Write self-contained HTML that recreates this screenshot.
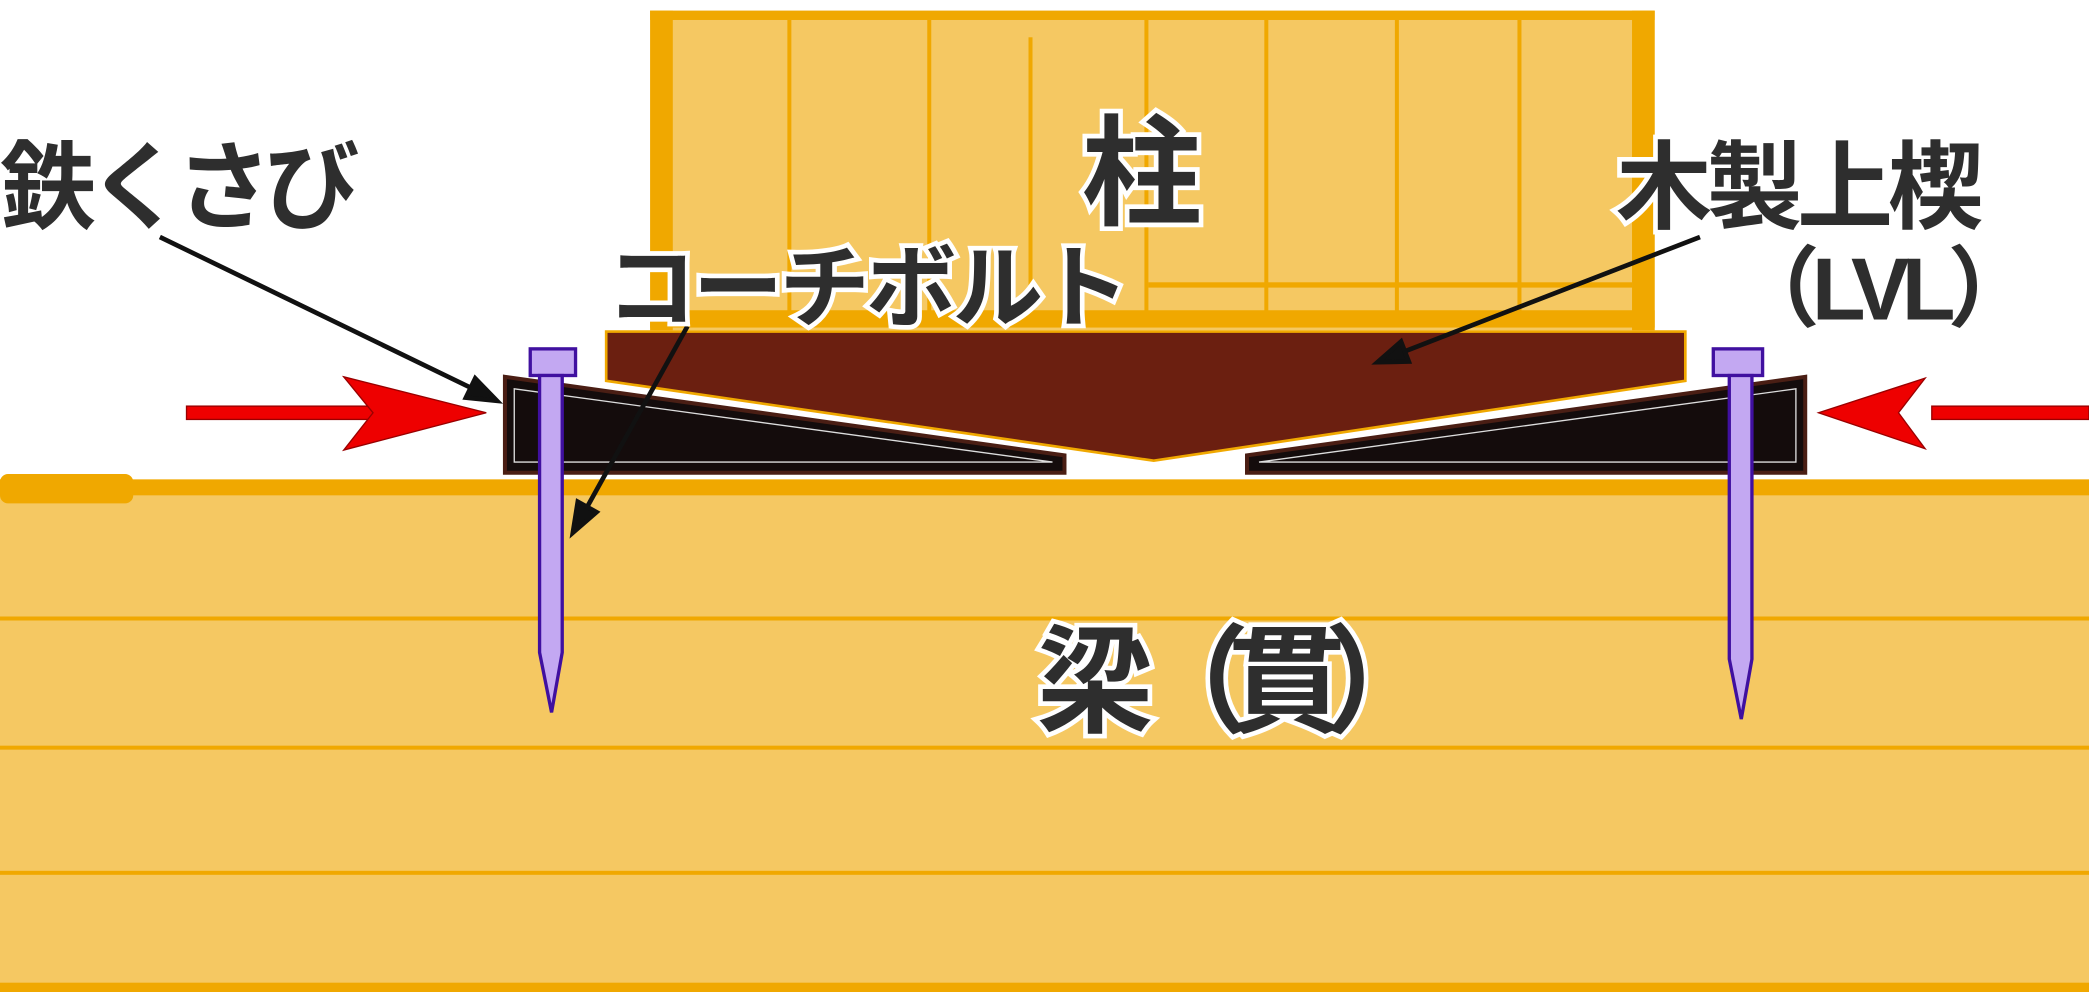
<!DOCTYPE html>
<html><head><meta charset="utf-8"><style>
html,body{margin:0;padding:0;background:#fff;}
svg{display:block}
text{font-family:"Liberation Sans","Noto Sans CJK JP",sans-serif;font-weight:bold;fill:#2e2e2e;stroke:#fff;stroke-width:7;paint-order:stroke;}
</style></head><body>
<svg width="2089" height="992" viewBox="0 0 1568 745" preserveAspectRatio="none" xmlns="http://www.w3.org/2000/svg">
<!-- beam -->
<rect x="0" y="362" width="1568" height="383" fill="#F5C862"/>
<rect x="0" y="360" width="1568" height="12" fill="#F0A800"/>
<rect x="0" y="356" width="100" height="22" rx="6" fill="#F0A800"/>
<rect x="0" y="463" width="1568" height="3" fill="#F0A800"/>
<rect x="0" y="560" width="1568" height="3" fill="#F0A800"/>
<rect x="0" y="654" width="1568" height="3" fill="#F0A800"/>
<rect x="0" y="738" width="1568" height="7" fill="#F0A800"/>
<!-- column -->
<rect x="488" y="8" width="754" height="240" fill="#F5C862"/>
<rect x="488" y="8" width="754" height="7" fill="#F0A800"/>
<rect x="488" y="8" width="17" height="240" fill="#F0A800"/>
<rect x="1225" y="8" width="17" height="240" fill="#F0A800"/>
<rect x="488" y="233" width="754" height="13" fill="#F0A800"/>
<g fill="#F0A800">
<rect x="591" y="15" width="3" height="220"/>
<rect x="696" y="15" width="3" height="220"/>
<rect x="772" y="28" width="3" height="190"/>
<rect x="859" y="15" width="3" height="220"/>
<rect x="949" y="15" width="3" height="220"/>
<rect x="1047" y="15" width="3" height="220"/>
<rect x="1139" y="15" width="3" height="220"/>
<rect x="862" y="212" width="363" height="4"/>
</g>
<!-- LVL wedge -->
<polygon points="455,249 1265,249 1265,286 866,346 455,286" fill="#6B1F10" stroke="#F0A800" stroke-width="2"/>
<!-- iron wedges -->
<polygon points="379,283 799,342 799,355 379,355" fill="#140C0C" stroke="#4a1e14" stroke-width="3"/>
<polygon points="386,292 790,347 386,347" fill="none" stroke="#ddd" stroke-width="1"/>
<polygon points="1355,283 936,342 936,355 1355,355" fill="#140C0C" stroke="#4a1e14" stroke-width="3"/>
<polygon points="1348,292 945,347 1348,347" fill="none" stroke="#ddd" stroke-width="1"/>
<!-- bolts -->
<g fill="#C3A8F2" stroke="#4010A0" stroke-width="2.5">
<rect x="398" y="262" width="34" height="20"/>
<polygon points="405,282 422,282 422,490 414,535 405,490"/>
<rect x="1286" y="262" width="37" height="20"/>
<polygon points="1298,282 1315,282 1315,495 1307,540 1298,495"/>
</g>
<!-- red arrows -->
<g fill="#EE0000" stroke="#900" stroke-width="1">
<rect x="140" y="305" width="140" height="10"/>
<polygon points="258,283 365,310 258,338 280,310"/>
<rect x="1450" y="305" width="118" height="10"/>
<polygon points="1445,284 1365,310 1445,337 1425,310"/>
</g>
<!-- black arrows -->
<g stroke="#111" stroke-width="3.5" fill="#111">
<line x1="120" y1="178" x2="355" y2="292"/>
<polygon points="373,301 349.7,298.6 356.7,284.2"/>
<line x1="516" y1="245" x2="440" y2="382"/>
<polygon points="430,400 433.7,376.8 447.7,384.6"/>
<line x1="1276" y1="178" x2="1054" y2="264"/>
<polygon points="1034,272 1051.6,256.5 1057.4,271.5"/>
</g>
<!-- labels -->
<text x="857" y="162" font-size="90" text-anchor="middle">柱</text>
<text x="0" y="166" font-size="72" letter-spacing="-6">鉄くさび</text>
<text x="455" y="240" font-size="68" letter-spacing="-3">コーチボルト</text>
<text x="1213" y="166" font-size="72" letter-spacing="-4">木製上楔</text>
<text x="1300" y="240" font-size="66" letter-spacing="-6">（LVL）</text>
<text x="778" y="543" font-size="88" letter-spacing="-16">梁（貫）</text>
</svg>
</body></html>
